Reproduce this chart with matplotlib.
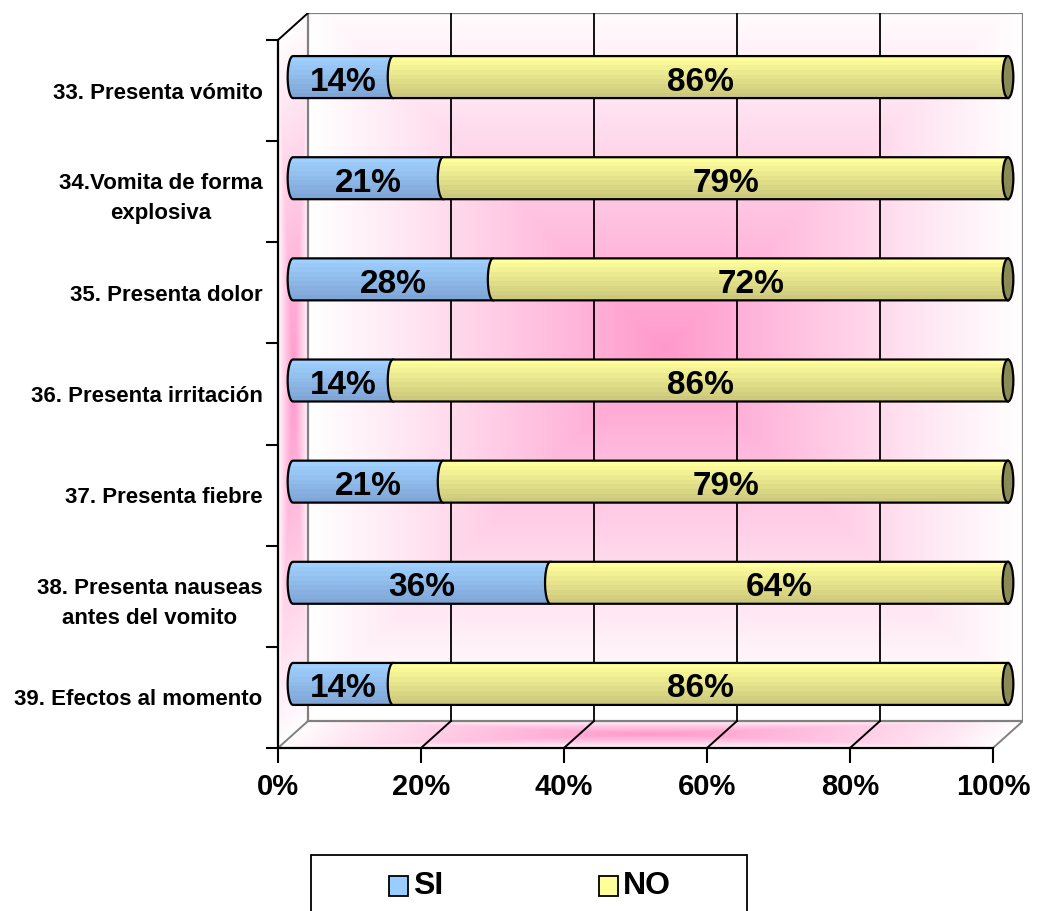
import numpy as np
import matplotlib
matplotlib.use("Agg")
import matplotlib.pyplot as plt
from matplotlib.patches import Polygon, Ellipse, Rectangle
from matplotlib.colors import to_rgb

plt.rcParams['font.family'] = ['Liberation Sans', 'DejaVu Sans']
plt.rcParams['font.weight'] = 'bold'

# --- data ---
categories = ["33. Presenta vómito",
              "34.Vomita de forma\nexplosiva",
              "35. Presenta dolor",
              "36. Presenta irritación",
              "37. Presenta fiebre",
              "38. Presenta nauseas\nantes del vomito",
              "39. Efectos al momento"]
si = [14, 21, 28, 14, 21, 36, 14]
no = [86, 79, 72, 86, 79, 64, 86]
series_names = ["SI", "NO"]
x_ticks = [0, 20, 40, 60, 80, 100]

# --- look ---
SI_TOP, SI_BOT = '#a0d0ff', '#7fa6d6'
NO_TOP, NO_BOT = '#ffff9c', '#cdc97c'
CAP = '#8a8a56'
PINK = np.array(to_rgb('#ff99cc'))
DX, DY = 4.2, 0.267      # 3D depth offset in data units
BAR_H = 0.415
RX = 0.75                # half-width of the cylinder end caps
n = len(categories)

fig = plt.figure(figsize=(10.39, 9.11), dpi=100)
ax = fig.add_axes([278/1039, 163/911, 745/1039, 735/911])
ax.set_xlim(0, 100 + DX)
ax.set_ylim(0, n + DY)


def shade(t, p=1.2):
    w = np.clip(1 - t, 0, 1) ** p
    return 1 - w[..., None] * (1 - PINK)


def wall(extent, tfunc, verts, p=1.2):
    x0, x1, y0, y1 = extent
    X, Y = np.meshgrid(np.linspace(x0, x1, 400), np.linspace(y0, y1, 400))
    im = ax.imshow(shade(tfunc(X, Y), p), extent=extent, origin='lower',
                   aspect='auto', interpolation='bilinear', zorder=0)
    im.set_clip_path(Polygon(verts, closed=True, transform=ax.transData))


# back wall: gradient from centre
wall((DX, 100 + DX, DY, n + DY),
     lambda X, Y: np.maximum(np.abs(2*(X - DX)/100 - 1), np.abs(2*(Y - DY)/n - 1.05)),
     [(DX, DY), (100 + DX, DY), (100 + DX, n + DY), (DX, n + DY)], p=1.1)
# floor
def floor_t(X, Y):
    v = Y / DY
    u = (X - v*DX) / 100
    return np.maximum(np.abs(2*u - 1), np.abs(2*v - 1))
wall((0, 100 + DX, 0, DY), floor_t, [(0, 0), (100, 0), (100 + DX, DY), (DX, DY)], p=0.8)
# left side wall
def side_t(X, Y):
    u = X / DX
    v = (Y - u*DY) / n
    return np.maximum(np.abs(2*u - 1), np.abs(2*v - 1))
wall((0, DX, 0, n + DY), side_t, [(0, 0), (DX, DY), (DX, n + DY), (0, n)], p=0.9)

# wall edges and gridlines
gray = '#808080'
ax.plot([DX, DX, 100 + DX, 100 + DX], [DY, n + DY, n + DY, DY], color=gray, lw=1.6, zorder=1)
ax.plot([DX, 100 + DX], [DY, DY], color=gray, lw=1.6, zorder=1)
for v in x_ticks:
    c = gray if v in (0, 100) else 'black'
    ax.plot([v, v + DX], [0, DY], color=c, lw=1.4, zorder=1)
    if v not in (0, 100):
        ax.plot([v + DX, v + DX], [DY, n + DY], color='black', lw=1.3, zorder=1)
ax.plot([0, DX], [n, n + DY], color='black', lw=1.4, zorder=1)


def bands(top, bot, k=9):
    a, b = np.array(to_rgb(top)), np.array(to_rgb(bot))
    f = np.linspace(0, 1, k)[:, None]
    return (a*(1 - f) + b*f)[::-1][:, None, :]


def segment(x0, x1, yc, top, bot, z, cap=False):
    yt, yb = yc + BAR_H/2, yc - BAR_H/2
    phi = np.linspace(np.pi/2, -np.pi/2, 40)
    arc = list(zip(x0 - RX*np.cos(phi), yc + BAR_H/2*np.sin(phi)))
    verts = [(x1, yt)] + arc + [(x1, yb)]
    im = ax.imshow(bands(top, bot), extent=(x0 - RX, x1, yb, yt), origin='lower',
                   aspect='auto', interpolation='nearest', zorder=z)
    im.set_clip_path(Polygon(verts, closed=True, transform=ax.transData))
    ax.add_patch(Polygon(verts, closed=True, facecolor='none', edgecolor='black',
                         lw=1.6, zorder=z + 0.1))
    if cap:
        ax.add_patch(Ellipse((x1, yc), 2*RX, BAR_H, facecolor=CAP,
                             edgecolor='black', lw=1.6, zorder=z + 0.2))


for i, (a, b) in enumerate(zip(si, no)):
    yc = n - i - 0.5 + DY/2
    x0 = DX/2
    segment(x0, x0 + a, yc, SI_TOP, SI_BOT, 3)
    segment(x0 + a, x0 + a + b, yc, NO_TOP, NO_BOT, 4, cap=True)
    ax.text(x0 + a/2, yc - 0.05, f"{a}%", ha='center', va='center',
            fontsize=24, fontweight='bold', zorder=6)
    ax.text(x0 + a + b/2, yc - 0.05, f"{b}%", ha='center', va='center',
            fontsize=24, fontweight='bold', zorder=6)

# axes
for s in ('top', 'right'):
    ax.spines[s].set_visible(False)
ax.spines['left'].set_bounds(0, n)
ax.spines['bottom'].set_bounds(0, 100)
for s in ('left', 'bottom'):
    ax.spines[s].set_linewidth(1.6)
    ax.spines[s].set_zorder(2)

ax.set_xticks(x_ticks, labels=[f"{v}%" for v in x_ticks])
ax.tick_params(axis='x', length=11, width=1.5, pad=7, labelsize=21)
ax.set_yticks(range(n + 1), labels=[''] * (n + 1))
ax.tick_params(axis='y', which='major', length=9, width=1.5)
ax.set_yticks([n - i - 0.5 for i in range(n)], labels=categories, minor=True)
ax.tick_params(axis='y', which='minor', length=0, pad=11, labelsize=16)
for lab in ax.get_yticklabels(minor=True):
    lab.set_multialignment('center')
    lab.set_linespacing(1.55)
for lab in ax.get_xticklabels() + ax.get_yticklabels(minor=True):
    lab.set_fontweight('bold')

# legend box, running off the bottom edge
W, H = 1039, 911
fig.add_artist(Rectangle((311/W, -0.05), 436/W, 0.05 + 56/H, transform=fig.transFigure,
                         facecolor='white', edgecolor='black', lw=1.3))
for name, col, xs in zip(series_names, ['#99ccff', '#ffff99'], [389, 599]):
    fig.add_artist(Rectangle((xs/W, (H - 896)/H), 19/W, 20/H, transform=fig.transFigure,
                             facecolor=col, edgecolor='black', lw=1.3))
    fig.text((xs + 24)/W, (H - 886)/H, name, fontsize=23, fontweight='bold',
             va='center', ha='left')

fig.savefig("out.png", dpi=100)
